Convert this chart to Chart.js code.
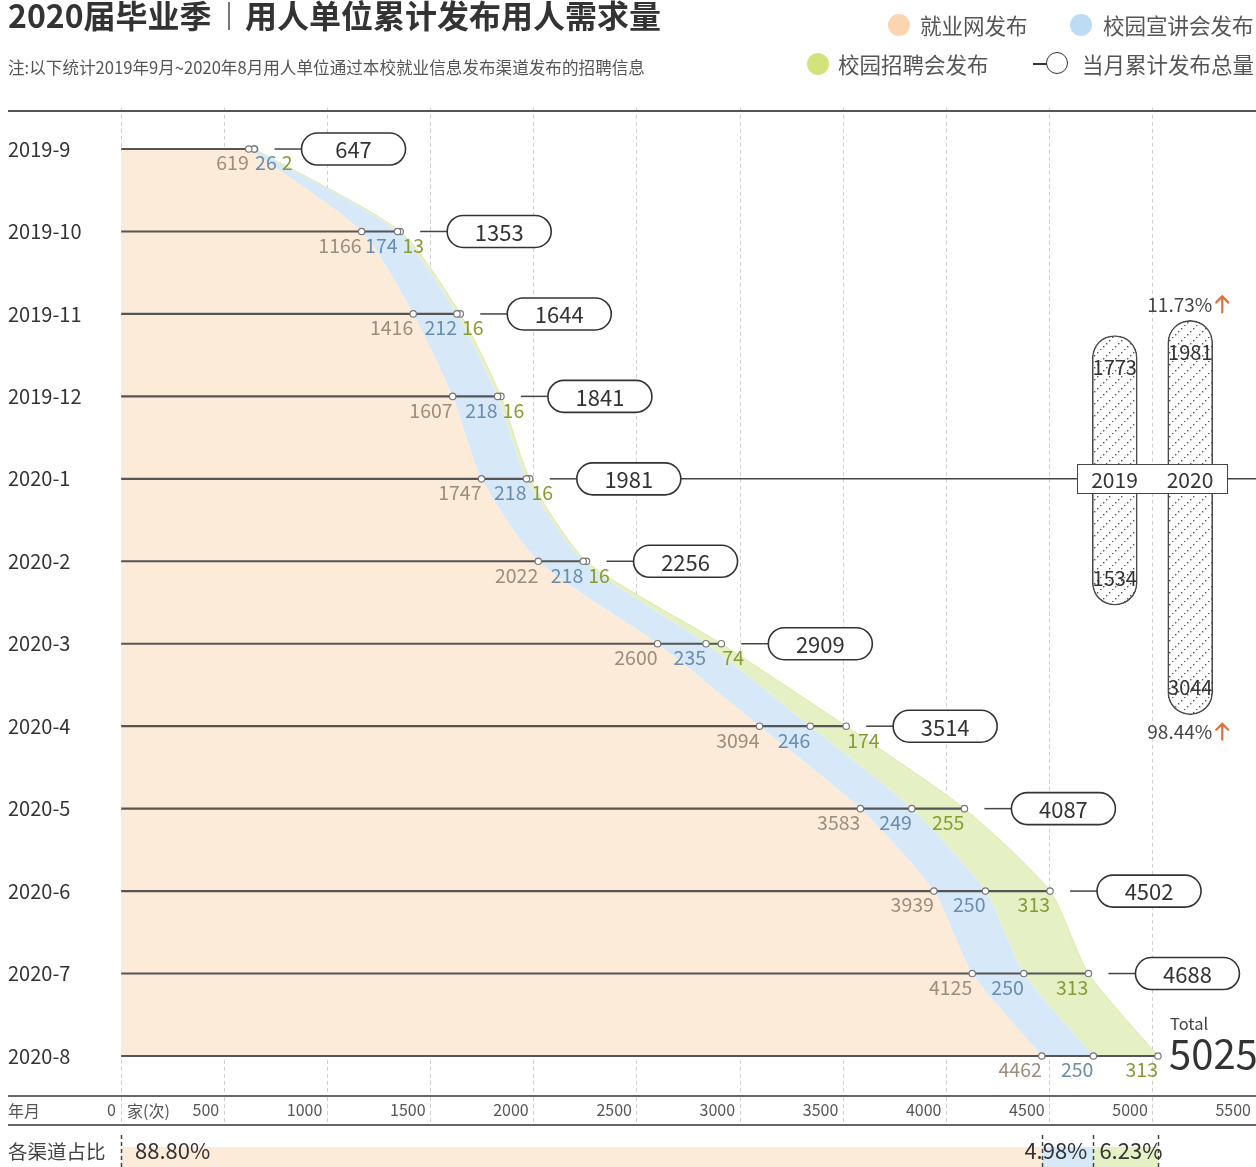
<!DOCTYPE html>
<html><head><meta charset="utf-8">
<script src="https://cdn.jsdelivr.net/npm/chart.js@4.4.1/dist/chart.umd.min.js"></script>
<style>
html,body{margin:0;padding:0;background:#fff;overflow:hidden;width:1256px;height:1167px;position:relative;font-family:'Noto Sans CJK SC','Noto Sans',sans-serif;color:#333}
.a{position:absolute;white-space:nowrap}
canvas{position:absolute}
</style></head><body>
<canvas id="main" width="1256" height="1167" style="left:0;top:0"></canvas>
<canvas id="share" width="1256" height="60" style="left:0;top:1135px"></canvas>
<canvas id="capUp" width="216" height="174" style="left:1040px;top:290px"></canvas>
<canvas id="capDown" width="216" height="250" style="left:1040px;top:494px"></canvas>
<div id="overlay"></div>
<script>
// ---------- data ----------
const months = ['2019-9','2019-10','2019-11','2019-12','2020-1','2020-2','2020-3','2020-4','2020-5','2020-6','2020-7','2020-8'];
const webPosts  = [619,1166,1416,1607,1747,2022,2600,3094,3583,3939,4125,4462];
const talkPosts = [26,174,212,218,218,218,235,246,249,250,250,250];
const fairPosts = [2,13,16,16,16,16,74,174,255,313,313,313];
const seriesNames = ['就业网发布','校园宣讲会发布','校园招聘会发布','当月累计发布总量'];
const xMin = 0, xMax = 5500, xStep = 500;
const compareYears = ['2019','2020'];
const firstPeriod  = [1773,1981];   // 去年9月-当年1月
const secondPeriod = [1534,3044];   // 当年2-8月
const periodLabels = [['去年9月-当年1月','发布总量'],['当年2-8月','发布总量']];
const titleMain = '2020届毕业季', titleSub = '用人单位累计发布用人需求量';
const note = '注:以下统计2019年9月~2020年8月用人单位通过本校就业信息发布渠道发布的招聘信息';

const totals = webPosts.map((v,i)=>v+talkPosts[i]+fairPosts[i]);
const FONT = "'Noto Sans CJK SC','Noto Sans',sans-serif";
Chart.defaults.font.family = FONT;
const C = {
  webArea:'#fdebd9', talkArea:'#d7e9f8', fairArea:'#e6f0c5',
  webDot:'#fbd5b2', talkDot:'#bddcf4', fairDot:'#d4e27d',
  webTxt:'#9e8c7c', talkTxt:'#6a8cad', fairTxt:'#879b33'
};

// ---------- html overlays ----------
const ov = document.getElementById('overlay');
function txt(s, x, y, size, color, align, weight){
  const d = document.createElement('div'); d.className='a';
  d.textContent = s;
  d.style.fontSize = size+'px'; d.style.lineHeight = (size+4)+'px';
  d.style.height = (size+4)+'px'; d.style.top = (y-(size+4)/2)+'px';
  d.style.color = color || '#333'; if (weight) d.style.fontWeight = weight;
  if (align==='right'){ d.style.right = (1256-x)+'px'; d.style.textAlign='right'; }
  else if (align==='center'){ d.style.left=(x-100)+'px'; d.style.width='200px'; d.style.textAlign='center'; }
  else d.style.left = x+'px';
  ov.appendChild(d); return d;
}
function rect(x,y,w,h,style){
  const d=document.createElement('div'); d.className='a';
  Object.assign(d.style,{left:x+'px',top:y+'px',width:w+'px',height:h+'px'},style||{});
  ov.appendChild(d); return d;
}
// title
txt(titleMain, 8, 14, 32, '#333', 'left', 'bold');
rect(228, 2, 1.5, 28, {background:'#777'});
txt(titleSub, 245, 14, 32, '#333', 'left', 'bold');
txt(note, 8, 67, 16.6, '#555');
// legend
function dot(cx,cy,r,color){ rect(cx-r,cy-r,2*r,2*r,{background:color,borderRadius:'50%'}); }
dot(899,25,11,C.webDot);  txt(seriesNames[0], 920, 25, 21.5, '#555');
dot(1081,25,11,C.talkDot); txt(seriesNames[1], 1103, 25, 21.5, '#555');
dot(818,64,11,C.fairDot);  txt(seriesNames[2], 838, 64, 21.5, '#555');
rect(1033,63,14,1.6,{background:'#333'});
rect(1046,52,22,22,{border:'1.6px solid #333',borderRadius:'50%',background:'#fff',boxSizing:'border-box'});
txt(seriesNames[3], 1082, 64, 21.5, '#555');
// rules
rect(8,110,1248,1.6,{background:'#555'});
rect(8,1095,1248,1.6,{background:'#666'});
rect(8,1124,1248,1.6,{background:'#666'});
txt('年月', 8, 1110, 16, '#555');
txt('家(次)', 127, 1110, 16, '#555');
txt('各渠道占比', 8, 1151, 19.5, '#444');
// right panel texts
txt(periodLabels[0][0], 1078, 414, 21, '#555', 'right');
txt(periodLabels[0][1], 1078, 447, 21, '#555', 'right');
txt(periodLabels[1][0], 1078, 513, 21, '#555', 'right');
txt(periodLabels[1][1], 1078, 545, 21, '#555', 'right');

// ---------- main chart ----------
const pointStyle = {pointRadius:3.2, pointBackgroundColor:'#fff', pointBorderColor:'#777', pointBorderWidth:1.2};
const mainPlugin = {
  id:'mainLabels',
  afterDatasetsDraw(chart){
    const ctx = chart.ctx, xs = chart.scales.x, ys = chart.scales.y;
    ctx.save();
    ctx.textBaseline = 'middle';
    months.forEach((m,i)=>{
      const y = ys.getPixelForValue(i);
      ctx.font = '19.5px '+FONT;
      const vals = [webPosts[i], talkPosts[i], fairPosts[i]];
      const cols = [C.webTxt, C.talkTxt, C.fairTxt];
      const minGap = [0, 2, 8];
      let cum = 0, prevRight = -1e9;
      vals.forEach((v,k)=>{
        cum += v;
        const px = xs.getPixelForValue(cum);
        const s = String(v);
        const w = ctx.measureText(s).width;
        let left;
        if (px - w < prevRight + minGap[k]) left = Math.max(px + 1, prevRight + 5);
        else left = px - w;
        ctx.fillStyle = cols[k]; ctx.textAlign = 'left';
        ctx.fillText(s, left, y+14);
        prevRight = left + w;
      });
      const tx = xs.getPixelForValue(totals[i]);
      if (i < months.length-1){
        ctx.strokeStyle = '#444'; ctx.lineWidth = 1.5;
        ctx.beginPath(); ctx.moveTo(tx+20, y); ctx.lineTo(tx+47, y); ctx.stroke();
        const px0 = tx+47, pw = 104, ph = 32;
        if (i === 4){
          ctx.beginPath(); ctx.moveTo(px0+pw, y); ctx.lineTo(chart.width, y); ctx.stroke();
        }
        ctx.beginPath(); ctx.roundRect(px0, y-ph/2, pw, ph, ph/2);
        ctx.fillStyle='#fff'; ctx.fill(); ctx.strokeStyle='#333'; ctx.lineWidth=1.6; ctx.stroke();
        ctx.fillStyle='#333'; ctx.font='22px '+FONT; ctx.textAlign='center';
        ctx.fillText(String(totals[i]), px0+pw/2, y+1);
      } else {
        ctx.textAlign='left'; ctx.fillStyle='#444'; ctx.font='16.5px '+FONT;
        ctx.fillText('Total', tx+12, y-32);
        ctx.fillStyle='#333'; ctx.font='40px '+FONT;
        ctx.fillText(String(totals[i]), tx+11, y-2);
      }
    });
    ctx.restore();
  }
};
new Chart(document.getElementById('main'), {
  type:'line',
  data:{labels:months, datasets:[
    Object.assign({label:seriesNames[0], data:webPosts, fill:'origin', backgroundColor:C.webArea, borderColor:'rgba(0,0,0,0)', borderWidth:0, order:0}, pointStyle),
    Object.assign({label:seriesNames[1], data:talkPosts, fill:'-1', backgroundColor:C.talkArea, borderColor:'rgba(0,0,0,0)', borderWidth:0, order:0}, pointStyle),
    Object.assign({label:seriesNames[2], data:fairPosts, fill:'-1', backgroundColor:C.fairArea, borderColor:'#dde9aa', borderWidth:1, order:0}, pointStyle),
    {type:'bar', label:seriesNames[3], data:totals, stack:'rows', backgroundColor:'#555', barThickness:1.5, order:1}
  ]},
  options:{
    indexAxis:'y', responsive:false, animation:false, events:[],
    layout:{autoPadding:false, padding:{left:8, top:107.8, right:0, bottom:41.8}},
    elements:{line:{tension:0.22}},
    plugins:{legend:{display:false}, tooltip:{enabled:false}, filler:{drawTime:'beforeDatasetsDraw'}},
    scales:{
      x:{type:'linear', position:'bottom', min:xMin, max:xMax, stacked:true,
         afterFit:s=>{s.height=28;},
         ticks:{stepSize:xStep, autoSkip:false, maxRotation:0, align:'end', labelOffset:-5, padding:-25, color:'#555', font:{size:16},
                callback:v=>String(v)},
         grid:{color:'#d0d0d0', lineWidth:1, drawTicks:true, tickLength:28, tickColor:'#d0d0d0', tickBorderDash:[4,3]},
         border:{display:false, dash:[4,3]}},
      y:{type:'category', offset:true,
         afterFit:s=>{s.width=113;},
         ticks:{color:'#333', font:{size:20}, crossAlign:'far', padding:0},
         grid:{display:false, drawTicks:false}, border:{display:false}}
    }
  },
  plugins:[mainPlugin]
});

// ---------- channel share bar ----------
const lastIdx = months.length-1;
const shareVals = [webPosts[lastIdx], talkPosts[lastIdx], fairPosts[lastIdx]];
const shareTotal = totals[lastIdx];
const sharePlugin = {
  id:'shareLabels',
  afterDatasetsDraw(chart){
    const ctx = chart.ctx, xs = chart.scales.x;
    ctx.save();
    ctx.strokeStyle='#444'; ctx.lineWidth=1.5; ctx.setLineDash([4,3]);
    let cum = 0; const bounds=[xs.getPixelForValue(0)];
    shareVals.forEach(v=>{cum+=v; bounds.push(xs.getPixelForValue(cum));});
    bounds.forEach(b=>{ctx.beginPath(); ctx.moveTo(Math.round(b)+0.5,0); ctx.lineTo(Math.round(b)+0.5,chart.height); ctx.stroke();});
    ctx.setLineDash([]);
    ctx.fillStyle='#333'; ctx.font='22px '+FONT; ctx.textBaseline='middle';
    const pct = shareVals.map(v=>(v/shareTotal*100).toFixed(2)+'%');
    ctx.textAlign='left';  ctx.fillText(pct[0], bounds[0]+14, 16);
    ctx.textAlign='right'; ctx.fillText(pct[1], bounds[2]-6, 16);
    ctx.textAlign='left';  ctx.fillText(pct[2], bounds[2]+6, 16);
    ctx.restore();
  }
};
new Chart(document.getElementById('share'), {
  type:'bar',
  data:{labels:['各渠道占比'], datasets:[
    {label:seriesNames[0], data:[shareVals[0]], backgroundColor:C.webArea},
    {label:seriesNames[1], data:[shareVals[1]], backgroundColor:C.talkArea},
    {label:seriesNames[2], data:[shareVals[2]], backgroundColor:C.fairArea}
  ]},
  options:{indexAxis:'y', responsive:false, animation:false, events:[],
    layout:{autoPadding:false, padding:{left:121, top:12, right:0, bottom:0}},
    datasets:{bar:{categoryPercentage:1, barPercentage:1}},
    plugins:{legend:{display:false}, tooltip:{enabled:false}},
    scales:{x:{display:false, stacked:true, min:xMin, max:xMax}, y:{display:false, stacked:true}}
  },
  plugins:[sharePlugin]
});

// ---------- year comparison capsules ----------
function hatch(){
  const c=document.createElement('canvas'); c.width=12; c.height=12;
  const g=c.getContext('2d'); g.fillStyle='#fff'; g.fillRect(0,0,12,12);
  g.fillStyle='#555';
  for(let t=0;t<12;t+=3){ g.fillRect(t, 11-t, 1.4, 1.4); }
  return g.createPattern(c,'repeat');
}
function arrow(ctx,x,y){
  ctx.save(); ctx.strokeStyle='#e0703c'; ctx.lineWidth=2.2; ctx.lineCap='round';
  ctx.beginPath(); ctx.moveTo(x,y+8); ctx.lineTo(x,y-8);
  ctx.moveTo(x-6,y-2); ctx.lineTo(x,y-8); ctx.lineTo(x+6,y-2); ctx.stroke(); ctx.restore();
}
function capPlugin(vals, upper){
  return {
    id:'cap'+(upper?'U':'D'),
    afterDatasetsDraw(chart){
      const ctx = chart.ctx; const meta = chart.getDatasetMeta(0);
      ctx.save(); ctx.textBaseline='middle';
      meta.data.forEach((bar,i)=>{
        ctx.font='20px '+FONT; ctx.fillStyle='#333'; ctx.textAlign='center';
        ctx.fillText(String(vals[i]), bar.x, upper ? bar.y+32 : bar.y-27);
      });
      const b = meta.data[1];
      const g = ((vals[1]/vals[0]-1)*100).toFixed(2)+'%';
      const ty = upper ? b.y-16 : b.y+17;
      ctx.font='19px '+FONT; ctx.fillStyle='#444'; ctx.textAlign='right';
      ctx.fillText(g, b.x+22, ty);
      arrow(ctx, b.x+32, ty);
      ctx.restore();
    }
  };
}
const pat = hatch();
const capCommon = {backgroundColor:pat, borderColor:'#4a4a4a', borderWidth:1.6, borderRadius:23, barThickness:45, borderSkipped:'start'};
new Chart(document.getElementById('capUp'), {
  type:'bar',
  data:{labels:compareYears, datasets:[Object.assign({label:periodLabels[0].join(''), data:firstPeriod}, capCommon)]},
  options:{responsive:false, animation:false, events:[],
    layout:{autoPadding:false, padding:{left:37,right:28,top:0,bottom:0}},
    plugins:{legend:{display:false}, tooltip:{enabled:false}},
    scales:{x:{display:false}, y:{display:false, min:0, max:2400}}},
  plugins:[capPlugin(firstPeriod,true)]
});
new Chart(document.getElementById('capDown'), {
  type:'bar',
  data:{labels:compareYears, datasets:[Object.assign({label:periodLabels[1].join(''), data:secondPeriod}, capCommon)]},
  options:{responsive:false, animation:false, events:[],
    layout:{autoPadding:false, padding:{left:37,right:28,top:0,bottom:18}},
    plugins:{legend:{display:false}, tooltip:{enabled:false}},
    scales:{x:{display:false}, y:{display:false, min:0, max:3200, reverse:true}}},
  plugins:[capPlugin(secondPeriod,false)]
});
// year box over the capsules
rect(1077,464,151,30,{border:'1.5px solid #444',background:'#fff',boxSizing:'border-box'});
txt(compareYears[0], 1114.5, 479, 21, '#333', 'center');
txt(compareYears[1], 1190, 479, 21, '#333', 'center');
ov.style.position='absolute'; ov.style.left='0'; ov.style.top='0';
</script>
</body></html>
